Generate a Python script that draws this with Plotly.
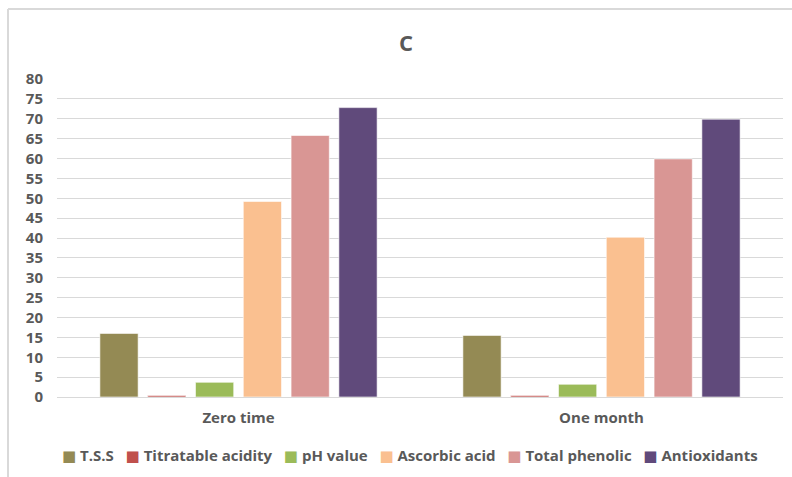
import plotly.graph_objects as go

# Storage periods and measured quality attributes
periods = ["Zero time", "One month"]
series_names = ["T.S.S", "Titratable acidity", "pH value", "Ascorbic acid",
                "Total phenolic", "Antioxidants"]
tss = [16.0, 15.5]
titratable_acidity = [0.35, 0.35]
ph_value = [3.7, 3.2]
ascorbic_acid = [49.2, 40.2]
total_phenolic = [65.8, 59.9]
antioxidants = [72.8, 69.9]
y_ticks = list(range(0, 85, 5))

values = [tss, titratable_acidity, ph_value, ascorbic_acid, total_phenolic, antioxidants]
colors = ["#948A54", "#C0504D", "#9BBB59", "#FAC090", "#D99694", "#604A7B"]

W, H = 792, 477
ML, MR, MT, MB = 57, 9, 79, 80
plot_w = W - ML - MR
plot_h = H - MT - MB

fig = go.Figure()
for name, vals, col in zip(series_names, values, colors):
    fig.add_trace(go.Bar(
        name=name, x=periods, y=vals, showlegend=False,
        marker=dict(color=col, line=dict(color="rgba(255,255,255,0.6)", width=1)),
    ))

font_family = "Open Sans, DejaVu Sans, sans-serif"
text_col = "#595959"

# Compact legend row: coloured square followed by the series name
legend_text = "&nbsp;&nbsp;&nbsp;".join(
    f"<span style='color:{c}'>■</span>&nbsp;{n}" for n, c in zip(series_names, colors)
)
fig.add_annotation(text=legend_text, xref="paper", yref="paper",
                   x=(410 - ML) / plot_w, xanchor="center",
                   y=(H - MB - 455) / plot_h, yanchor="middle", showarrow=False,
                   font=dict(family=font_family, size=15, color=text_col, weight="bold"))

# Outer chart frame (left and top edges)
fx = (8 - ML) / plot_w
fy = (H - MB - 9) / plot_h
fig.add_shape(type="line", xref="paper", yref="paper", x0=fx, x1=fx, y0=fy, y1=-0.3,
              line=dict(color="#D9D9D9", width=2))
fig.add_shape(type="line", xref="paper", yref="paper", x0=fx, x1=1.1, y0=fy, y1=fy,
              line=dict(color="#D9D9D9", width=2))

fig.update_layout(
    width=W, height=H,
    margin=dict(l=ML, r=MR, t=MT, b=MB),
    paper_bgcolor="white", plot_bgcolor="white",
    barmode="group", bargap=0.21, bargroupgap=0.2,
    title=dict(text="C", x=(406 - ML) / plot_w, xref="paper", xanchor="center",
               y=1 - 43 / H, yanchor="middle",
               font=dict(family=font_family, size=22, color=text_col, weight="bold")),
    font=dict(family=font_family, color=text_col),
    showlegend=False,
)
fig.update_yaxes(range=[0, 80], tickvals=y_ticks, showgrid=True, gridcolor="#D9D9D9",
                 gridwidth=1, zeroline=True, zerolinecolor="#D9D9D9", zerolinewidth=1,
                 showline=False, ticks="", ticklabelstandoff=13,
                 tickfont=dict(family=font_family, size=15, color=text_col, weight="bold"))
fig.update_xaxes(showline=False, ticks="", ticklabelstandoff=10,
                 tickfont=dict(family=font_family, size=15, color=text_col, weight="bold"))

fig.write_html("out.html")
